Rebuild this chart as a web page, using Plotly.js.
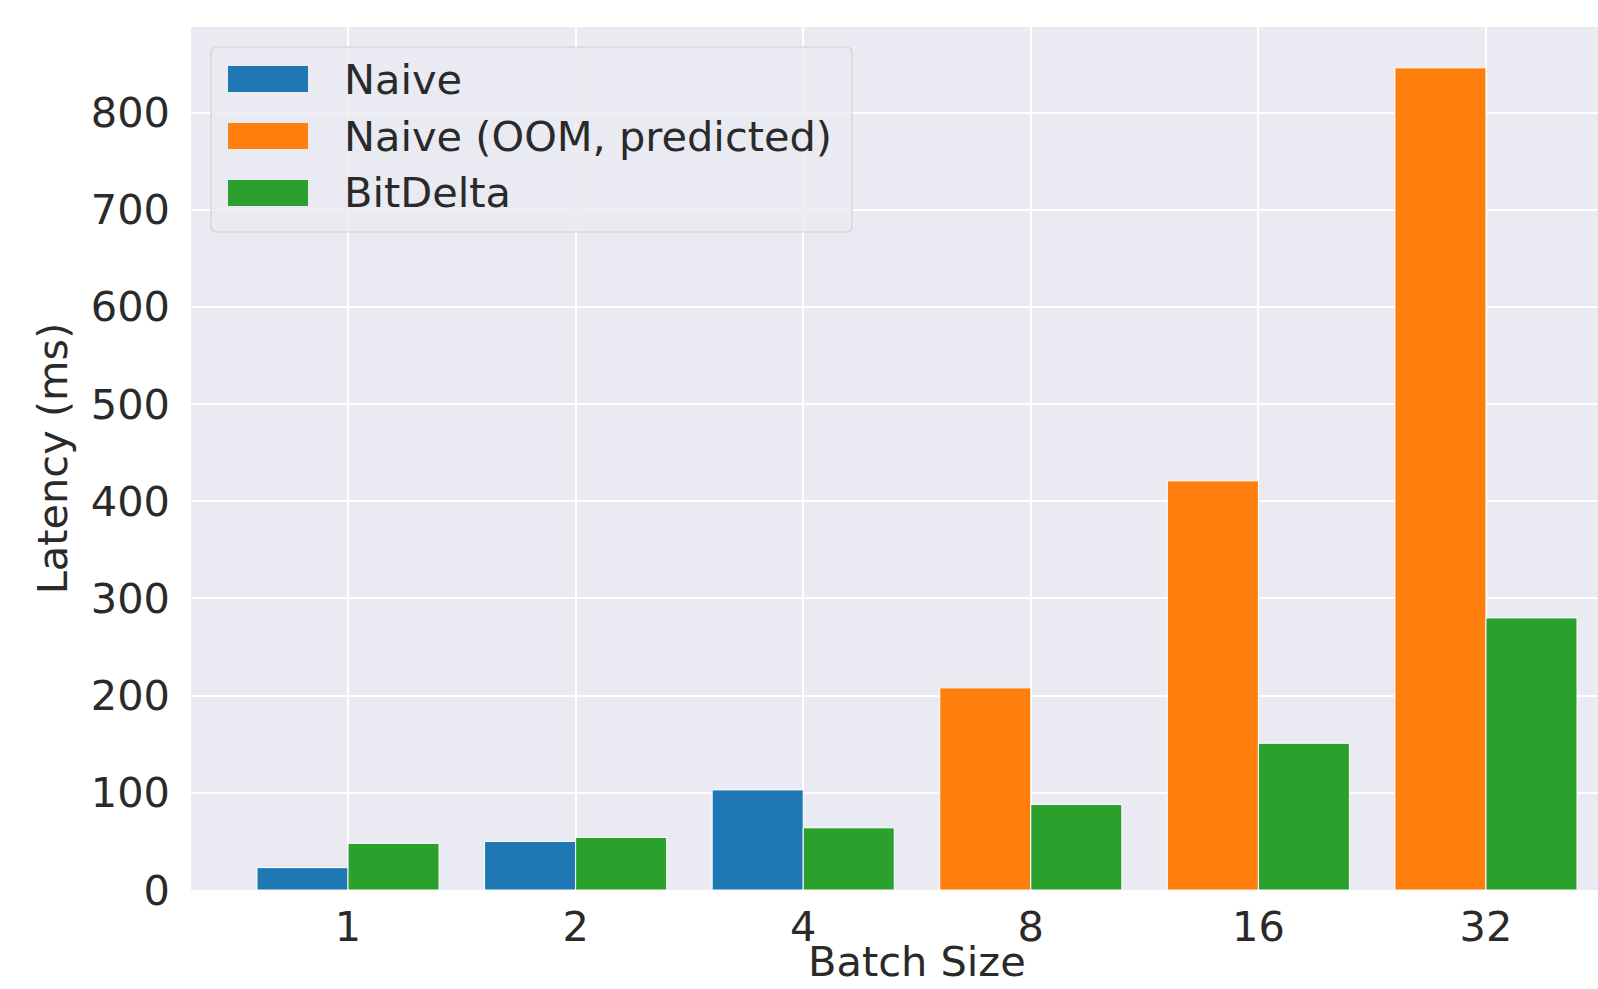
<!DOCTYPE html>
<html>
<head>
<meta charset="utf-8">
<script src="https://cdn.plot.ly/plotly-3.0.1.min.js"></script>
<style>
  html, body { margin: 0; padding: 0; background: #ffffff; overflow: hidden; }
  #chart { width: 1643px; height: 989px; }
</style>
</head>
<body>
<div id="chart"></div>
<script>
// Batch sizes on the x axis
const batchSizes = ['1', '2', '4', '8', '16', '32'];

// Latency in milliseconds
const naiveBatches = ['1', '2', '4'];
const naiveLatency = [23, 50, 103];

const naiveOomBatches = ['8', '16', '32'];
const naiveOomLatency = [208, 421, 846];

const bitDeltaBatches = ['1', '2', '4', '8', '16', '32'];
const bitDeltaLatency = [48, 54, 64, 88, 151, 280];

const seriesNames = ['Naive', 'Naive (OOM, predicted)', 'BitDelta'];
const seriesColors = ['#1f77b4', '#ff7f0e', '#2ca02c'];

const pos = b => batchSizes.indexOf(b);

const W = 1643, H = 989;
const M = { l: 191, r: 0, t: 27, b: 99 };
const plotW = W - M.l - M.r, plotH = H - M.t - M.b;
const px = x => (x - M.l) / plotW;   // pixel -> paper x
const py = y => (H - M.b - y) / plotH; // pixel -> paper y

const textColor = '#2a2a2a';
const fontFamily = 'DejaVu Sans, sans-serif';
const fontSize = 41.5;
const textFont = { family: fontFamily, size: fontSize, color: textColor };

function barTrace(name, cats, vals, color, offset) {
  return {
    type: 'bar',
    name: name,
    x: cats.map(pos),
    y: vals,
    width: 0.4,
    offset: offset,
    marker: { color: color, line: { color: '#ffffff', width: 1 } },
    showlegend: false,
    hoverinfo: 'y'
  };
}

const data = [
  barTrace(seriesNames[0], naiveBatches, naiveLatency, seriesColors[0], -0.4),
  barTrace(seriesNames[1], naiveOomBatches, naiveOomLatency, seriesColors[1], -0.4),
  barTrace(seriesNames[2], bitDeltaBatches, bitDeltaLatency, seriesColors[2], 0)
];

// Legend box drawn in the upper-left corner of the axes (rounded corners)
const legendBox = { x0: 211, x1: 852, y0: 47, y1: 232 };
const legendRows = [79, 136, 193];
const r = 6;
function roundedRectPath(b) {
  const X0 = px(b.x0), X1 = px(b.x1), Y0 = py(b.y1), Y1 = py(b.y0);
  const rx = r / plotW, ry = r / plotH;
  return `M${X0 + rx},${Y0} L${X1 - rx},${Y0} Q${X1},${Y0} ${X1},${Y0 + ry} ` +
         `L${X1},${Y1 - ry} Q${X1},${Y1} ${X1 - rx},${Y1} L${X0 + rx},${Y1} ` +
         `Q${X0},${Y1} ${X0},${Y1 - ry} L${X0},${Y0 + ry} Q${X0},${Y0} ${X0 + rx},${Y0} Z`;
}
const shapes = [{
  type: 'path', xref: 'paper', yref: 'paper', layer: 'above',
  path: roundedRectPath(legendBox),
  fillcolor: 'rgba(234,234,242,0.8)',
  line: { color: '#d0d0d6', width: 1.2 }
}];
const annotations = [];
seriesNames.forEach((name, i) => {
  const cy = legendRows[i];
  shapes.push({
    type: 'rect', xref: 'paper', yref: 'paper', layer: 'above',
    x0: px(228), x1: px(308), y0: py(cy + 13), y1: py(cy - 13),
    fillcolor: seriesColors[i], line: { width: 0 }
  });
  annotations.push({
    xref: 'paper', yref: 'paper', x: px(342), y: py(cy),
    xanchor: 'left', yanchor: 'middle', showarrow: false,
    text: name, font: textFont
  });
});

// x-axis title, centred under the axes
annotations.push({
  xref: 'paper', yref: 'paper', x: 0.5, y: py(962),
  xanchor: 'center', yanchor: 'middle', showarrow: false,
  borderpad: 0,
  text: 'Batch Size', font: textFont
});

const layout = {
  width: W, height: H,
  margin: M,
  paper_bgcolor: '#ffffff',
  plot_bgcolor: '#eaeaf2',
  barmode: 'overlay',
  font: textFont,
  xaxis: {
    range: [-0.69, 5.69],
    tickmode: 'array',
    tickvals: batchSizes.map(pos),
    ticktext: batchSizes,
    showgrid: true, gridcolor: '#ffffff', gridwidth: 2,
    zeroline: false, showline: false, ticks: '',
    ticklabelstandoff: 8,
    tickfont: textFont,
    fixedrange: true
  },
  yaxis: {
    range: [0, 888],
    tickmode: 'array',
    tickvals: [0, 100, 200, 300, 400, 500, 600, 700, 800],
    showgrid: true, gridcolor: '#ffffff', gridwidth: 2,
    zeroline: false, showline: false, ticks: '',
    ticklabelstandoff: 20,
    tickfont: textFont,
    title: { text: 'Latency (ms)', standoff: 10, font: textFont },
    fixedrange: true
  },
  shapes: shapes,
  annotations: annotations
};

Plotly.newPlot('chart', data, layout, { displayModeBar: false, responsive: false });
</script>
</body>
</html>
